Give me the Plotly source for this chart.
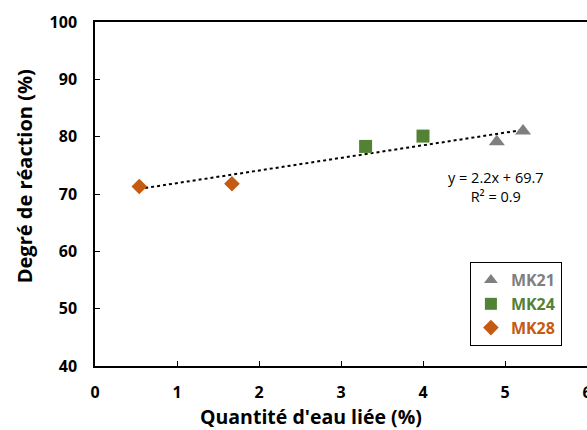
import plotly.graph_objects as go

# Data
mk21_x = [4.90, 5.22]
mk21_y = [79.1, 81.0]
mk24_x = [3.30, 4.00]
mk24_y = [78.3, 80.1]
mk28_x = [0.54, 1.67]
mk28_y = [71.3, 71.8]
trend_slope = 2.2
trend_intercept = 69.7
r2 = 0.9

all_x = mk21_x + mk24_x + mk28_x
tx = [min(all_x), max(all_x)]
ty = [trend_slope * v + trend_intercept for v in tx]

FONT = "Open Sans, sans-serif"

fig = go.Figure()
fig.add_trace(go.Scatter(x=tx, y=ty, mode="lines", showlegend=False,
                         line=dict(color="black", width=2, dash="dot"), hoverinfo="skip"))
fig.add_trace(go.Scatter(x=mk21_x, y=mk21_y, mode="markers",
                         name='<span style="color:#7f7f7f"><b>MK21</b></span>',
                         marker=dict(symbol="triangle-up", size=14, color="#7f7f7f")))
fig.add_trace(go.Scatter(x=mk24_x, y=mk24_y, mode="markers",
                         name='<span style="color:#548235"><b>MK24</b></span>',
                         marker=dict(symbol="square", size=13, color="#548235")))
fig.add_trace(go.Scatter(x=mk28_x, y=mk28_y, mode="markers",
                         name='<span style="color:#c55a11"><b>MK28</b></span>',
                         marker=dict(symbol="diamond", size=12, color="#c55a11")))

fig.add_annotation(x=4.89, y=71.2, xref="x", yref="y",
                   text=f"y = {trend_slope}x + {trend_intercept}<br>R² = {r2}",
                   showarrow=False, align="center",
                   font=dict(family=FONT, size=14.5, color="black"))

# Axis titles
fig.add_annotation(x=0.439, y=-0.148, xref="paper", yref="paper",
                   text="<b>Quantité d'eau liée (%)</b>", showarrow=False,
                   xanchor="center", yanchor="middle",
                   font=dict(family=FONT, size=19.5, color="black"))
fig.add_annotation(x=-0.144, y=0.552, xref="paper", yref="paper",
                   text="<b>Degré de réaction (%)</b>", showarrow=False, textangle=-90,
                   xanchor="center", yanchor="middle",
                   font=dict(family=FONT, size=20, color="black"))

fig.update_layout(
    width=587, height=430,
    margin=dict(l=95, r=0, t=22, b=64, autoexpand=False),
    paper_bgcolor="white", plot_bgcolor="white",
    font=dict(family=FONT, color="black"),
    legend=dict(x=0.762, y=0.302, xanchor="left", yanchor="top",
                bordercolor="black", borderwidth=1, bgcolor="white",
                font=dict(size=16), tracegroupgap=0, itemsizing="constant"),
    xaxis=dict(range=[0, 6], dtick=1, showgrid=False, zeroline=False, automargin=False,
               showline=True, linecolor="black", linewidth=1.5, mirror=True,
               ticks="inside", ticklen=5, tickcolor="black",
               ticklabelstandoff=11, ticklabeloverflow="allow",
               tickfont=dict(size=16, family=FONT, weight="bold")),
    yaxis=dict(range=[40, 100], dtick=10, showgrid=False, zeroline=False, automargin=False,
               showline=True, linecolor="black", linewidth=1.5, mirror=True,
               ticks="inside", ticklen=5, tickcolor="black",
               ticklabelstandoff=13, ticklabeloverflow="allow",
               tickfont=dict(size=16, family=FONT, weight="bold")),
)

fig.write_html("out.html", config={"displayModeBar": False},
               post_script="document.body.style.margin='0';")
